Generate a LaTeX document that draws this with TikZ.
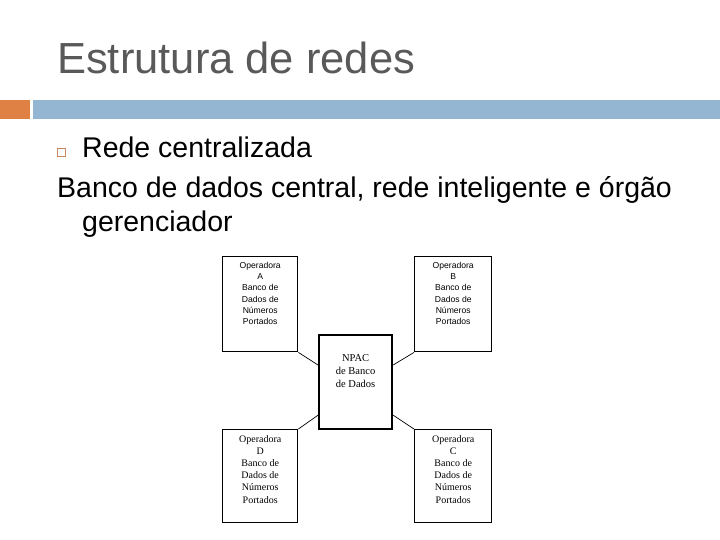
\documentclass[tikz,border=0pt]{standalone}
\usepackage{fontspec}
\setmainfont{Liberation Sans}
\newfontfamily\serifx{Liberation Serif}
\usetikzlibrary{calc}
\definecolor{titlegray}{HTML}{595959}
\definecolor{barorange}{HTML}{DF8044}
\definecolor{barblue}{HTML}{94B6D2}
\definecolor{bulletc}{HTML}{C8865A}
\tikzset{
  box/.style={draw=black, line width=1.4pt, inner sep=0pt, anchor=north west},
  btxt/.style={anchor=north, align=center, inner sep=0pt, font=\fontsize{8.6}{11.2}\selectfont},
  stxt/.style={anchor=north, align=center, inner sep=0pt, font=\serifx\fontsize{10}{12.2}\selectfont},
  link/.style={draw=black, line width=0.7pt}
}
\begin{document}
\begin{tikzpicture}[x=1pt,y=-1pt]
\useasboundingbox (0,0) rectangle (720,540);
% title
\node[anchor=base west, inner sep=0pt, text=titlegray, font=\fontsize{43.5}{50}\selectfont] (title) at (57,74) {Estrutura de redes};
% bars
\fill[barorange] (0,100) rectangle (30,119);
\fill[barblue] (33,100) rectangle (720,119);
% bullet
\node[draw=bulletc, line width=0.9pt, minimum size=8pt, inner sep=0pt] (bul) at (61,152) {};
\node[anchor=base west, inner sep=0pt, font=\fontsize{28.5}{34}\selectfont] (l1) at (82,158) {Rede centralizada};
\node[anchor=base west, inner sep=0pt, font=\fontsize{28.5}{34}\selectfont] (l2) at (57,197) {Banco de dados central, rede inteligente e órgão};
\node[anchor=base west, inner sep=0pt, font=\fontsize{28.5}{34}\selectfont] (l3) at (82,232) {gerenciador};
% boxes
\node[box, minimum width=75pt, minimum height=95pt] (A) at (222,256) {};
\node[box, minimum width=77pt, minimum height=95pt] (B) at (414,256) {};
\node[box, line width=2.2pt, minimum width=73pt, minimum height=94pt] (N) at (318,334) {};
\node[box, minimum width=75pt, minimum height=93pt] (D) at (222,429) {};
\node[box, minimum width=77pt, minimum height=93pt] (C) at (414,429) {};
% texts
\node[btxt] (At) at ($(A.north)+(0,6)$) {Operadora\\A\\Banco de\\Dados de\\Números\\Portados};
\node[btxt] (Bt) at ($(B.north)+(0,6)$) {Operadora\\B\\Banco de\\Dados de\\Números\\Portados};
\node[stxt, font=\serifx\fontsize{10.5}{13}\selectfont] (Nt) at ($(N.north)+(0,20)$) {NPAC\\de Banco\\de Dados};
\node[stxt] (Dt) at ($(D.north)+(0,6)$) {Operadora\\D\\Banco de\\Dados de\\Números\\Portados};
\node[stxt] (Ct) at ($(C.north)+(0,6)$) {Operadora\\C\\Banco de\\Dados de\\Números\\Portados};
% connectors
\coordinate (nA) at ($(N.north west)+(0,31)$);
\coordinate (nB) at ($(N.north east)+(0,31)$);
\coordinate (nD) at ($(N.south west)+(0,-15)$);
\coordinate (nC) at ($(N.south east)+(0,-15)$);
\draw[link] (A.south east) -- (nA);
\draw[link] (B.south west) -- (nB);
\draw[link] (D.north east) -- (nD);
\draw[link] (C.north west) -- (nC);
\end{tikzpicture}
\end{document}
